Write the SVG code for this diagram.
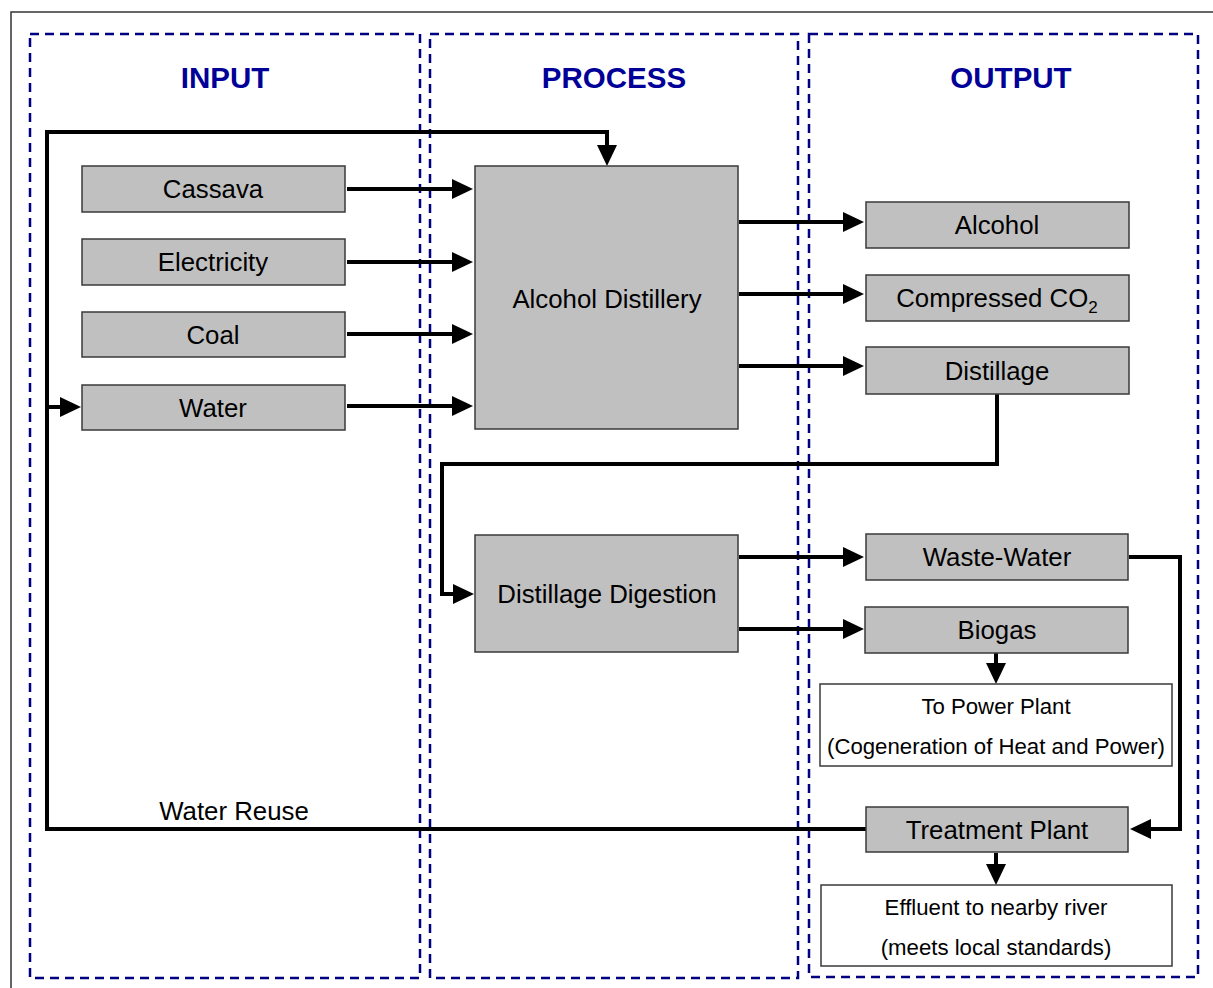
<svg xmlns="http://www.w3.org/2000/svg" width="1213" height="988" viewBox="0 0 1213 988">
<defs>
<style>
.panel{fill:none;stroke:#000080;stroke-width:2.5;stroke-dasharray:9 6}
.title{font-family:"Liberation Sans",Arial,sans-serif;font-weight:bold;font-size:29.5px;fill:#000099;text-anchor:middle}
.box{fill:#C0C0C0;stroke:#3a3a3a;stroke-width:1.5}
.wbox{fill:#FFFFFF;stroke:#3a3a3a;stroke-width:1.5}
.lbl{font-family:"Liberation Sans",Arial,sans-serif;font-size:25.8px;fill:#000;text-anchor:middle}
.sm{font-family:"Liberation Sans",Arial,sans-serif;font-size:22.2px;fill:#000;text-anchor:middle}
.conn{fill:none;stroke:#000;stroke-width:4}
.arr{fill:none;stroke:#000;stroke-width:4;marker-end:url(#ah)}
</style>
<marker id="ah" markerUnits="userSpaceOnUse" markerWidth="21" markerHeight="21" refX="0" refY="10" orient="auto" viewBox="0 0 21 20">
<path d="M0,0 L21,10 L0,20 Z" fill="#000"/>
</marker>
</defs>
<rect width="1213" height="988" fill="#FFFFFF"/>
<path d="M11,1000 L11,12 L1215,12" fill="none" stroke="#333" stroke-width="1.5"/>

<g id="panels">
<rect class="panel" x="30" y="34" width="390" height="944"/>
<rect class="panel" x="430" y="34" width="368" height="944"/>
<rect class="panel" x="809" y="34" width="389" height="943"/>
<text class="title" x="225" y="88">INPUT</text>
<text class="title" x="614" y="88">PROCESS</text>
<text class="title" x="1011" y="88">OUTPUT</text>
</g>

<g id="connectors">
<path class="arr" d="M347,189 L452,189"/>
<path class="arr" d="M347,262 L452,262"/>
<path class="arr" d="M347,334 L452,334"/>
<path class="arr" d="M347,406 L452,406"/>
<path class="arr" d="M47,829 L47,132 L607,132 L607,145"/>
<path class="arr" d="M47,407 L60,407"/>
<path class="arr" d="M739,222 L843,222"/>
<path class="arr" d="M739,294 L843,294"/>
<path class="arr" d="M739,366 L843,366"/>
<path class="arr" d="M997,394 L997,464 L442,464 L442,594 L453,594"/>
<path class="arr" d="M739,557 L843,557"/>
<path class="arr" d="M739,629 L843,629"/>
<path class="arr" d="M996,653 L996,663"/>
<path class="arr" d="M1129,557 L1180,557 L1180,829 L1151,829"/>
<path class="arr" d="M996,853 L996,864"/>
<path class="conn" d="M866,829 L45,829"/>
<text class="lbl" x="234" y="820">Water Reuse</text>
</g>

<g id="cassava"><rect class="box" x="82" y="166" width="263" height="46"/><text class="lbl" x="213" y="198">Cassava</text></g>
<g id="electricity"><rect class="box" x="82" y="239" width="263" height="46"/><text class="lbl" x="213" y="271">Electricity</text></g>
<g id="coal"><rect class="box" x="82" y="312" width="263" height="45"/><text class="lbl" x="213" y="344">Coal</text></g>
<g id="water"><rect class="box" x="82" y="385" width="263" height="45"/><text class="lbl" x="213" y="417">Water</text></g>

<g id="alcohol-distillery"><rect class="box" x="475" y="166" width="263" height="263"/><text class="lbl" x="607" y="308">Alcohol Distillery</text></g>
<g id="distillage-digestion"><rect class="box" x="475" y="535" width="263" height="117"/><text class="lbl" x="607" y="603">Distillage Digestion</text></g>

<g id="alcohol"><rect class="box" x="866" y="202" width="263" height="46"/><text class="lbl" x="997" y="234">Alcohol</text></g>
<g id="compressed-co2"><rect class="box" x="866" y="275" width="263" height="46"/><text class="lbl" x="997" y="307"><tspan>Compressed CO</tspan><tspan font-size="17" dy="6">2</tspan></text></g>
<g id="distillage"><rect class="box" x="866" y="347" width="263" height="47"/><text class="lbl" x="997" y="380">Distillage</text></g>
<g id="waste-water"><rect class="box" x="866" y="534" width="262" height="46"/><text class="lbl" x="997" y="566">Waste-Water</text></g>
<g id="biogas"><rect class="box" x="865" y="607" width="263" height="46"/><text class="lbl" x="997" y="639">Biogas</text></g>
<g id="power-plant"><rect class="wbox" x="820" y="684" width="352" height="82"/><text class="sm" x="996" y="714">To Power Plant</text><text class="sm" x="996" y="754">(Cogeneration of Heat and Power)</text></g>
<g id="treatment-plant"><rect class="box" x="866" y="807" width="262" height="45"/><text class="lbl" x="997" y="839">Treatment Plant</text></g>
<g id="effluent"><rect class="wbox" x="821" y="885" width="351" height="81"/><text class="sm" x="996" y="915">Effluent to nearby river</text><text class="sm" x="996" y="955">(meets local standards)</text></g>
</svg>
